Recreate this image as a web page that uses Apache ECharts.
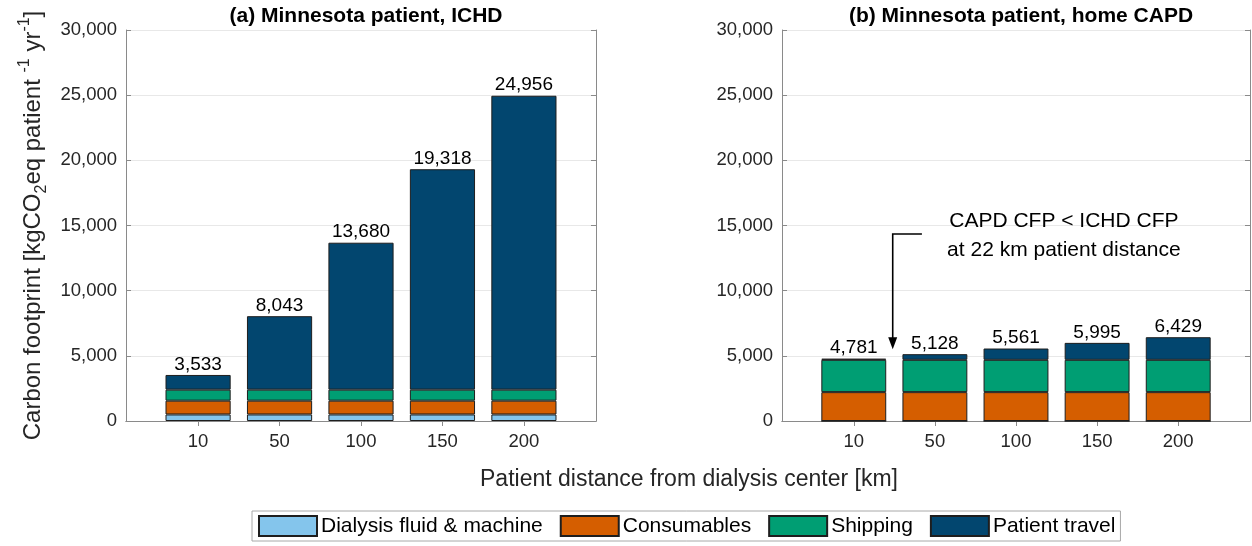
<!DOCTYPE html>
<html>
<head>
<meta charset="utf-8">
<script src="https://cdn.jsdelivr.net/npm/echarts@6/dist/echarts.min.js"></script>
<style>
  html, body { margin: 0; padding: 0; background: #ffffff; }
  #chart { width: 1252px; height: 546px; }
</style>
</head>
<body>
<div id="chart"></div>
<script>
// Patient distance categories (km)
const distances = ['10', '50', '100', '150', '200'];
const componentNames = ['Dialysis fluid & machine', 'Consumables', 'Shipping', 'Patient travel'];
const componentColors = ['#84c5ec', '#d55e00', '#009e73', '#02466f'];

// (a) In-centre haemodialysis, kgCO2eq per patient per year
const ichdFluid       = [500, 500, 500, 500, 500];
const ichdConsumables = [1060, 1060, 1060, 1060, 1060];
const ichdShipping    = [846, 846, 846, 846, 846];
const ichdTravel      = [1127, 5637, 11274, 16912, 22550];
const ichdTotals      = [3533, 8043, 13680, 19318, 24956];

// (b) Home CAPD, kgCO2eq per patient per year
const capdFluid       = [0, 0, 0, 0, 0];
const capdConsumables = [2215, 2215, 2215, 2215, 2215];
const capdShipping    = [2479, 2479, 2479, 2479, 2479];
const capdTravel      = [87, 434, 867, 1301, 1735];
const capdTotals      = [4781, 5128, 5561, 5995, 6429];

// y axis range and tick step
const yMax = 30000;
const yStep = 5000;

const fmt = v => Number(v).toLocaleString('en-US');
const FONT = '"Liberation Sans", Arial, Helvetica, sans-serif';
const AXIS_COLOR = '#8a8a8a';
const TEXT_COLOR = '#262626';
const TICK_FONT = 18.5;

// Each panel: an outer frame (value axes, limits 0.115..5.885 so categories sit at 1..5)
// and an inner category grid that spans exactly the five category bands.
const xMin = 0.115, xMax = 5.885;
const catPositions = distances.map((d, i) => i + 1);
const frames = [
  { left: 126, top: 30, width: 470, height: 391 },
  { left: 782, top: 30, width: 468, height: 391 }
];
function innerGrid(f) {
  const unit = f.width / (xMax - xMin);
  return { left: f.left + (0.5 - xMin) * unit, top: f.top, width: distances.length * unit, height: f.height };
}

const grids = [frames[0], innerGrid(frames[0]), frames[1], innerGrid(frames[1])];

function panelXAxes(p) {
  const frameIdx = p * 2, innerIdx = p * 2 + 1;
  const common = {
    type: 'value', gridIndex: frameIdx, min: xMin, max: xMax,
    axisLine: { show: true, lineStyle: { color: AXIS_COLOR, width: 1 } },
    axisTick: { show: true, inside: true, length: 5, customValues: catPositions, lineStyle: { color: AXIS_COLOR } },
    splitLine: { show: false }
  };
  return [
    Object.assign({}, common, {
      position: 'bottom',
      axisLabel: {
        show: true, customValues: catPositions, margin: 11,
        color: TEXT_COLOR, fontSize: TICK_FONT, fontFamily: FONT,
        formatter: v => distances[Math.round(v) - 1]
      }
    }),
    Object.assign({}, common, { position: 'top', axisLabel: { show: false } }),
    {
      type: 'category', gridIndex: innerIdx, data: distances, boundaryGap: true,
      show: false
    }
  ];
}

function panelYAxes(p, withName) {
  const frameIdx = p * 2, innerIdx = p * 2 + 1;
  const common = {
    type: 'value', gridIndex: frameIdx, min: 0, max: yMax, interval: yStep,
    axisLine: { show: true, lineStyle: { color: AXIS_COLOR, width: 1 } },
    axisTick: { show: true, inside: true, length: 5, lineStyle: { color: AXIS_COLOR } }
  };
  const left = Object.assign({}, common, {
    position: 'left',
    splitLine: { show: true, lineStyle: { color: '#e8e8e8', width: 1 } },
    axisLabel: { show: true, margin: 9, color: TEXT_COLOR, fontSize: TICK_FONT, fontFamily: FONT, formatter: fmt }
  });
  if (withName) {
    Object.assign(left, {
      name: '{a|Carbon footprint [kgCO}{sub|2}{a|eq patient }{sup|-1}{a| yr}{sup|-1}{a|]}',
      nameLocation: 'middle',
      nameRotate: 90,
      nameGap: 76,
      nameTextStyle: {
        color: TEXT_COLOR, fontFamily: FONT,
        rich: {
          a: { fontSize: 24, fontFamily: FONT, color: TEXT_COLOR, lineHeight: 33, verticalAlign: 'middle' },
          sub: { fontSize: 16, fontFamily: FONT, color: TEXT_COLOR, lineHeight: 33, verticalAlign: 'bottom' },
          sup: { fontSize: 16, fontFamily: FONT, color: TEXT_COLOR, lineHeight: 33, verticalAlign: 'top' }
        }
      }
    });
  }
  const right = Object.assign({}, common, {
    position: 'right', splitLine: { show: false }, axisLabel: { show: false }
  });
  const inner = { type: 'value', gridIndex: innerIdx, min: 0, max: yMax, show: false, splitLine: { show: false } };
  return [left, right, inner];
}

function stackSeries(p, parts, totals) {
  const axisIdx = p * 3 + 2;
  return parts.map((values, k) => {
    const s = {
      name: componentNames[k],
      type: 'bar',
      stack: 'total' + p,
      xAxisIndex: axisIdx,
      yAxisIndex: axisIdx,
      barWidth: '80%',
      itemStyle: { color: componentColors[k], borderColor: '#1e1e1e', borderWidth: 1 },
      emphasis: { disabled: true },
      data: values
    };
    if (k === parts.length - 1) {
      s.label = {
        show: true, position: 'top', distance: 1,
        color: '#000', fontSize: 19, fontFamily: FONT,
        formatter: q => fmt(totals[q.dataIndex])
      };
    }
    return s;
  });
}

const chart = echarts.init(document.getElementById('chart'), null, { renderer: 'canvas' });

chart.setOption({
  animation: false,
  backgroundColor: '#ffffff',
  title: [
    { text: '(a) Minnesota patient, ICHD', left: 361, top: 1, textAlign: 'center',
      textStyle: { fontSize: 21, fontWeight: 'bold', color: '#000', fontFamily: FONT } },
    { text: '(b) Minnesota patient, home CAPD', left: 1016, top: 1, textAlign: 'center',
      textStyle: { fontSize: 21, fontWeight: 'bold', color: '#000', fontFamily: FONT } }
  ],
  grid: grids,
  xAxis: [...panelXAxes(0), ...panelXAxes(1)],
  yAxis: [...panelYAxes(0, true), ...panelYAxes(1, false)],
  legend: {
    data: componentNames,
    left: 252, top: 511,
    orient: 'horizontal',
    icon: 'rect',
    itemWidth: 58, itemHeight: 20, itemGap: 17,
    padding: [4, 5, 4, 6],
    borderColor: '#a8a8a8', borderWidth: 1,
    selectedMode: false,
    textStyle: { fontSize: 21, color: '#000', fontFamily: FONT, padding: [0, 0, 0, -1] }
  },
  series: [
    ...stackSeries(0, [ichdFluid, ichdConsumables, ichdShipping, ichdTravel], ichdTotals),
    ...stackSeries(1, [capdFluid, capdConsumables, capdShipping, capdTravel], capdTotals)
  ]
});

// Shared x-axis title and the break-even note on panel (b), placed in panel (b) data coordinates
const noteX = 3.59;
const noteLines = [
  { text: 'CAPD CFP < ICHD CFP', y: 15345 },
  { text: 'at 22 km patient distance', y: 13120 }
];
const arrowX = 1.48, arrowElbowX = 1.84, arrowTopY = 14350, arrowTipY = 5500;

function drawOverlay() {
  const px = (x, y) => chart.convertToPixel({ xAxisIndex: 3, yAxisIndex: 3 }, [x, y]);
  const elbowR = px(arrowElbowX, arrowTopY);
  const elbowL = px(arrowX, arrowTopY);
  const tip = px(arrowX, arrowTipY);
  const headLen = 12, headHalf = 4.5;
  const elements = [
    {
      type: 'text', silent: true, x: 689, y: 480,
      style: { text: 'Patient distance from dialysis center [km]', fill: TEXT_COLOR,
               fontSize: 23, fontFamily: FONT, align: 'center', verticalAlign: 'middle' }
    },
    {
      type: 'polyline', silent: true,
      shape: { points: [elbowR, elbowL, [tip[0], tip[1] - headLen + 1]] },
      style: { stroke: '#000', lineWidth: 1.6, fill: null }
    },
    {
      type: 'polygon', silent: true,
      shape: { points: [[tip[0], tip[1]], [tip[0] - headHalf, tip[1] - headLen], [tip[0] + headHalf, tip[1] - headLen]] },
      style: { fill: '#000' }
    }
  ];
  noteLines.forEach(l => {
    const p = px(noteX, l.y);
    elements.push({
      type: 'text', silent: true, x: p[0], y: p[1],
      style: { text: l.text, fill: '#000', fontSize: 21, fontFamily: FONT, align: 'center', verticalAlign: 'middle' }
    });
  });
  chart.setOption({ graphic: elements });
}
drawOverlay();
</script>
</body>
</html>
